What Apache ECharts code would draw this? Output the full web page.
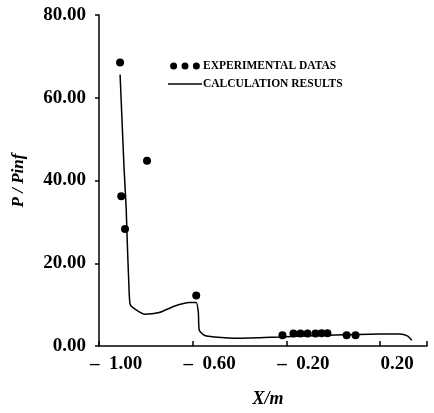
<!DOCTYPE html>
<html>
<head>
<meta charset="utf-8">
<script src="https://cdn.jsdelivr.net/npm/echarts@6/dist/echarts.min.js"></script>
<style>
  html, body { margin: 0; padding: 0; background: #fff; }
  #chart { width: 434px; height: 413px; }
</style>
</head>
<body>
<div id="chart"></div>
<script>
  // experimental points (X/m, P/Pinf)
  const expX = [-0.910, -0.905, -0.889, -0.795, -0.585, -0.217, -0.170, -0.140, -0.110, -0.076, -0.050, -0.025, 0.057, 0.095]
  const expY = [68.5, 36.2, 28.3, 44.8, 12.2, 2.6, 3.0, 3.0, 3.0, 3.0, 3.1, 3.1, 2.6, 2.6]

  // calculation curve
  const calcX = [-0.910, -0.902, -0.893, -0.884, -0.880, -0.872, -0.867, -0.846, -0.807, -0.743, -0.679, -0.615, -0.585, -0.576, -0.572, -0.551, -0.508, -0.401, -0.230, -0.016, 0.198, 0.283, 0.318, 0.335]
  const calcY = [65.6, 54.9, 42.9, 33.3, 26.1, 14.1, 10.1, 8.9, 7.7, 8.1, 9.6, 10.5, 10.5, 8.1, 3.8, 2.6, 2.2, 1.9, 2.2, 2.6, 2.9, 2.9, 2.4, 1.4]

  const yTicks = [0, 20, 40, 60, 80]

  const font = 'Liberation Serif'
  const chart = echarts.init(document.getElementById('chart'))

  const pair = (xs, ys) => xs.map((x, i) => [x, ys[i]])

  const threeDots = 'path://M0,4a4,4 0 1,0 8,0a4,4 0 1,0 -8,0Z M13,4a4,4 0 1,0 8,0a4,4 0 1,0 -8,0Z M26,4a4,4 0 1,0 8,0a4,4 0 1,0 -8,0Z'

  chart.setOption({
    animation: false,
    backgroundColor: '#fff',
    grid: { left: 99, top: 15, width: 328, bottom: 64 },
    legend: {
      orient: 'vertical',
      left: 163,
      top: 55,
      itemGap: 6,
      itemWidth: 34,
      itemHeight: 7,
      textStyle: { fontFamily: font, fontWeight: 'bold', fontSize: 11.5, color: '#000', padding: [0, 0, 0, -4] },
      data: [
        { name: 'EXPERIMENTAL DATAS', icon: threeDots },
        { name: 'CALCULATION RESULTS', icon: 'path://M0,0H40V2H0Z' }
      ]
    },
    xAxis: {
      type: 'value',
      min: -1.0,
      max: 0.4,
      interval: 0.4,
      name: 'X/m',
      nameLocation: 'middle',
      nameGap: 44,
      nameTextStyle: { fontFamily: font, fontStyle: 'italic', fontWeight: 'bold', fontSize: 18, color: '#000', padding: [0, 0, 0, 10] },
      splitLine: { show: false },
      axisLine: { onZero: false, lineStyle: { color: '#000', width: 1.5 } },
      axisTick: { inside: true, length: 5, lineStyle: { color: '#000', width: 1.5 } },
      axisLabel: {
        margin: 9,
        fontFamily: font,
        fontWeight: 'bold',
        fontSize: 19,
        color: '#000',
        padding: [0, 0, 0, 34],
        formatter: v => {
          if (v > 0.3) return ''
          return v < 0 ? '–  ' + Math.abs(v).toFixed(2) : v.toFixed(2)
        }
      }
    },
    yAxis: {
      type: 'value',
      min: yTicks[0],
      max: yTicks[yTicks.length - 1],
      interval: 20,
      name: 'P / Pinf',
      nameLocation: 'middle',
      nameRotate: 90,
      nameGap: 72,
      nameTextStyle: { fontFamily: font, fontStyle: 'italic', fontWeight: 'bold', fontSize: 17, color: '#000' },
      splitLine: { show: false },
      axisLine: { show: true, onZero: false, lineStyle: { color: '#000', width: 1.5 } },
      axisTick: { show: true, length: 4, lineStyle: { color: '#000', width: 1.5 } },
      axisLabel: {
        margin: 13,
        fontFamily: font,
        fontWeight: 'bold',
        fontSize: 19,
        color: '#000',
        formatter: v => v.toFixed(2)
      }
    },
    series: [
      {
        name: 'EXPERIMENTAL DATAS',
        type: 'scatter',
        symbol: 'circle',
        symbolSize: 8,
        itemStyle: { color: '#000', opacity: 1 },
        data: pair(expX, expY)
      },
      {
        name: 'CALCULATION RESULTS',
        type: 'line',
        symbol: 'none',
        smooth: 0.2,
        lineStyle: { color: '#000', width: 1.5 },
        itemStyle: { color: '#000' },
        data: pair(calcX, calcY)
      }
    ]
  })
</script>
</body>
</html>
